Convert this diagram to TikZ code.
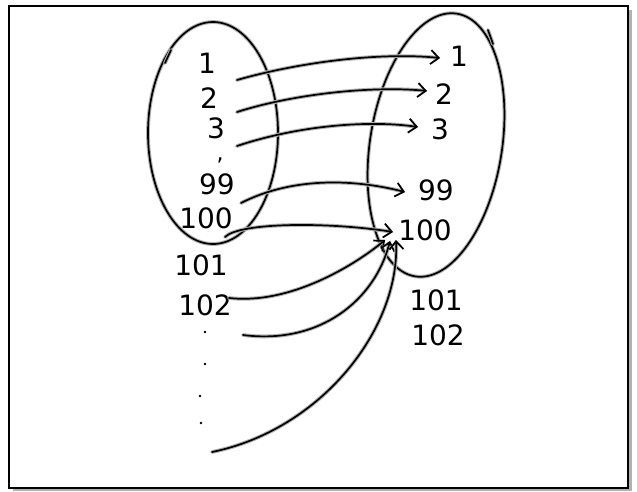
\documentclass[tikz,border=0pt]{standalone}
\usepackage{fontspec}
\setmainfont{DejaVu Sans}
\usetikzlibrary{arrows.meta}
\begin{document}
\begin{tikzpicture}[x=1pt,y=-1pt,
  hand/.style={draw=black, line width=1.7pt, line cap=round, line join=round,
    preaction={draw=gray!60, line width=3.8pt, line cap=round, line join=round}},
  harrow/.style={hand, -{Straight Barb[length=8pt,width=14pt,line width=1.7pt]}},
  lbl/.style={font=\fontsize{28}{30}\selectfont, inner sep=0pt},
  dotm/.style={circle, fill=black, inner sep=0pt, minimum size=2.8pt}]
\useasboundingbox (0,0) rectangle (637,491);
% frame with shadow
\fill[gray!60] (13,10) rectangle (632,491);
\fill[white] (9,6) rectangle (628,488);
\draw[black, line width=1.6pt] (9,6) rectangle (628,488);
% ellipses
\draw[hand] (213,133) ellipse [x radius=65pt, y radius=111pt];
\draw[hand] (165,63) -- (171,50);
\draw[hand, rotate around={-9:(436,145)}] (436,145) ellipse [x radius=66pt, y radius=133pt];
\draw[hand] (488,30) -- (493,44);
% left labels
\node[lbl] (l1) at (207,63) {1};
\node[lbl] (l2) at (209,98) {2};
\node[lbl] (l3) at (216,128) {3};
\node[lbl, font=\fontsize{22}{24}\selectfont] (lc) at (220,160) {,};
\node[lbl] (l99) at (217,184) {99};
\node[lbl] (l100) at (206,218) {100};
\node[lbl] (l101) at (201,265) {101};
\node[lbl] (l102) at (205,305) {102};
\node[dotm] (d1) at (205,332) {};
\node[dotm] (d2) at (205,364) {};
\node[dotm] (d3) at (200,396) {};
\node[dotm] (d4) at (201,423) {};
% right labels
\node[lbl] (r1) at (459,56) {1};
\node[lbl] (r2) at (444,94) {2};
\node[lbl] (r3) at (440,129) {3};
\node[lbl] (r99) at (436,190) {99};
\node[lbl] (r100) at (425,230) {100};
\node[lbl] (r101) at (436,300) {101};
\node[lbl] (r102) at (438,335) {102};
% anchors
\coordinate (s1) at (237,80);   \coordinate (t1) at (440,58);
\coordinate (s2) at (237,112);  \coordinate (t2) at (427,91);
\coordinate (s3) at (237,146);  \coordinate (t3) at (418,127);
\coordinate (s99) at (241,203); \coordinate (t99) at (405,192);
\coordinate (s100) at (225,237); \coordinate (t100) at (393,232);
\coordinate (s102) at (229,298); \coordinate (ta) at (385,240);
\coordinate (sb) at (243,335);  \coordinate (tb) at (390,241);
\coordinate (sc) at (212,452);  \coordinate (tc) at (396,240);
% arrows
\draw[harrow] (s1) .. controls (300,62) and (380,52) .. (t1);
\draw[harrow] (s2) .. controls (300,92) and (380,86) .. (t2);
\draw[harrow] (s3) .. controls (300,125) and (370,120) .. (t3);
\draw[harrow] (s99) .. controls (290,178) and (350,178) .. (t99);
\draw[harrow] (s100) .. controls (240,222) and (330,222) .. (t100);
\draw[harrow] (s102) .. controls (290,305) and (355,265) .. (ta);
\draw[harrow] (sb) .. controls (320,345) and (375,300) .. (tb);
\draw[harrow] (sc) .. controls (320,430) and (400,330) .. (tc);
\end{tikzpicture}
\end{document}
